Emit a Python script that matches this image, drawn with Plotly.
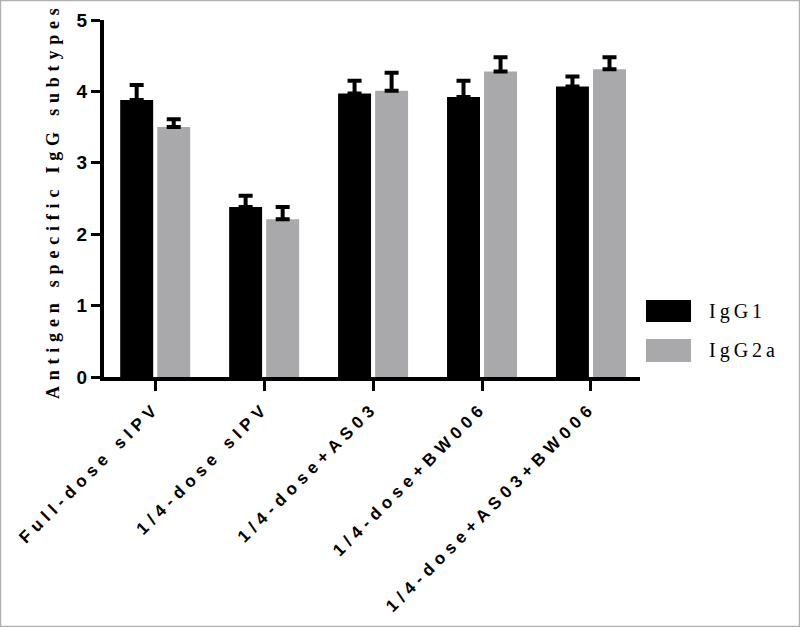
import plotly.graph_objects as go

categories = ["Full-dose sIPV", "1/4-dose sIPV", "1/4-dose+AS03", "1/4-dose+BW006", "1/4-dose+AS03+BW006"]
igg1_values = [3.88, 2.38, 3.97, 3.92, 4.07]
igg1_errors = [0.21, 0.16, 0.18, 0.23, 0.14]
igg2a_values = [3.50, 2.21, 4.01, 4.28, 4.31]
igg2a_errors = [0.11, 0.17, 0.25, 0.20, 0.17]
series_names = ["IgG1", "IgG2a"]
y_ticks = [0, 1, 2, 3, 4, 5]

# plot area in pixels
L, R, T, B = 104, 640, 20, 377
W, H = R - L, B - T
def px(x):
    return (x - L) / W
def py(y):
    return (B - y) / H

fig = go.Figure()
err_style = dict(type="data", symmetric=False, color="black", thickness=4, width=7)
fig.add_trace(go.Bar(
    x=categories, y=igg1_values, name=series_names[0], marker=dict(color="black", line=dict(width=0)),
    error_y=dict(array=igg1_errors, arrayminus=[0] * len(igg1_errors), **err_style),
    showlegend=False))
fig.add_trace(go.Bar(
    x=categories, y=igg2a_values, name=series_names[1], marker=dict(color="#a9a9ab", line=dict(width=0)),
    error_y=dict(array=igg2a_errors, arrayminus=[0] * len(igg2a_errors), **err_style),
    showlegend=False))

fig.update_layout(
    width=800, height=627,
    margin=dict(l=L, r=800 - R, t=T, b=627 - B, autoexpand=False),
    paper_bgcolor="white", plot_bgcolor="white",
    barmode="group", bargap=0.32, bargroupgap=0.11,
    xaxis=dict(
        range=[-0.47, 4.45], showline=True, linecolor="black", linewidth=4,
        ticks="outside", ticklen=10, tickwidth=3, tickcolor="black",
        tickangle=-45, showgrid=False, zeroline=False,
        tickfont=dict(family="Liberation Sans, Arial", size=17, color="black", weight="bold"),
    ),
    yaxis=dict(
        range=[0, 5], tickvals=y_ticks, showline=True, linecolor="black", linewidth=4,
        ticks="outside", ticklen=9, tickwidth=3, tickcolor="black", showgrid=False, zeroline=False,
        tickfont=dict(family="Liberation Sans, Arial", size=19, color="black", weight="bold"),
    ),
    font=dict(family="Liberation Sans, Arial", color="black"),
)

# y axis title
fig.add_annotation(
    text="<b>Antigen specific IgG subtypes</b>", textangle=-90,
    xref="paper", yref="paper", x=px(53), y=py(201), xanchor="center", yanchor="middle",
    showarrow=False, font=dict(family="Liberation Serif, Times New Roman", size=18, color="black"))

# manual legend
legend_colors = ["black", "#a9a9ab"]
legend_rows = [(300, 322), (339, 362)]
for name, col, (y0, y1) in zip(series_names, legend_colors, legend_rows):
    fig.add_shape(type="rect", xref="paper", yref="paper",
                  x0=px(646), x1=px(691), y0=py(y1), y1=py(y0),
                  fillcolor=col, line=dict(width=0))
    fig.add_annotation(text=name, xref="paper", yref="paper", align="left",
                       x=px(707), y=py((y0 + y1) / 2), xanchor="left", yanchor="middle",
                       showarrow=False,
                       font=dict(family="Liberation Serif, Times New Roman", size=20, color="black"))

# outer frame
fig.add_shape(type="rect", xref="paper", yref="paper",
              x0=px(0.5), x1=px(799.5), y0=py(626.5), y1=py(0.5),
              line=dict(color="#b0b0b0", width=1.5), fillcolor="rgba(0,0,0,0)", layer="below")

post_js = """
(function(){
  document.body.style.margin = '0';
  function spacing(){
    var gd = document.getElementById('{plot_id}');
    if (!gd) return;
    gd.querySelectorAll('.xtick text').forEach(function(t){ t.style.letterSpacing = '5.3px'; });
    gd.querySelectorAll('.annotation').forEach(function(g){
      var idx = g.getAttribute('data-index');
      var t = g.querySelector('.annotation-text');
      if (!t) return;
      t.style.letterSpacing = (idx === '0') ? '5.8px' : '4px';
    });
  }
  spacing();
  setTimeout(spacing, 30);
  setTimeout(spacing, 300);
})();
"""

fig.write_html("out.html", post_script=post_js, config={"displayModeBar": False})
